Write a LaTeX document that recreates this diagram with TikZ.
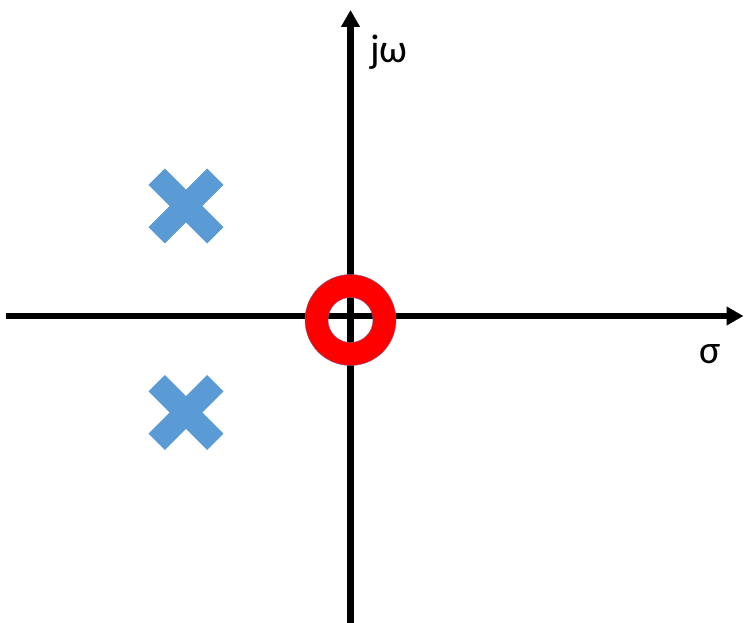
\documentclass[tikz,border=0pt]{standalone}
\usepackage{fontspec}
\setmainfont{Carlito}
\usetikzlibrary{positioning,arrows.meta}
\definecolor{poleblue}{RGB}{91,155,213}
\definecolor{zerored}{RGB}{255,0,0}
\tikzset{
  axis/.style={line width=6.5pt, -{Triangle[length=17pt,width=18pt]}},
  polebar/.style={fill=poleblue, rotate=#1},
  lbl/.style={inner sep=0pt, font=\fontsize{40}{48}\selectfont}
}

\begin{document}
\begin{tikzpicture}[x=1pt, y=1pt]
  \useasboundingbox (-350.5,-307) rectangle (393.5,316);
  % axes
  \coordinate (o) at (0,0);
  \coordinate (xs) at (-344.5,0);
  \coordinate (xe) at (393,0);
  \coordinate (ys) at (0,-310);
  \coordinate (ye) at (0,306);
  \draw[axis] (xs) -- (xe);
  \draw[axis] (ys) -- (ye);
  \node[lbl, anchor=base west] (jw) at (19.5,253) {jω};
  \node[lbl] (sig) at (360,-38) {σ};
  % zero
  \coordinate (z) at (0,-4);
  \filldraw[zerored, even odd rule, draw={rgb,255:red,120;green,100;blue,150}, line width=0.4pt]
    (z) circle (45.5) (z) circle (22.5);
  % poles
  \foreach \p/\py in {p1/110, p2/-96.5} {
    \coordinate (\p) at (-164.5,\py);
    \foreach \a in {45,-45}
      \fill[polebar=\a] ([shift={(-41.5,-11.5)}]\p) rectangle ++(83,23);
  }
\end{tikzpicture}
\end{document}
